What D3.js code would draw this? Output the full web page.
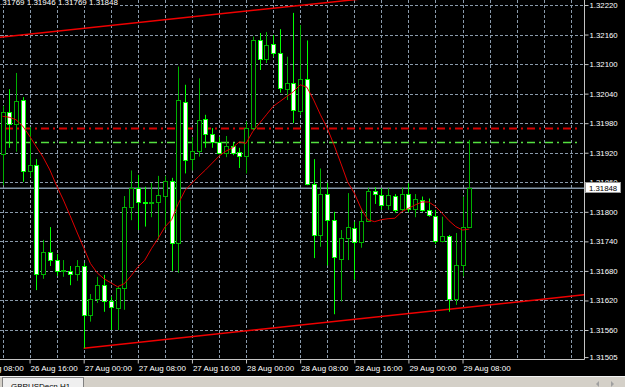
<!DOCTYPE html>
<html>
<head>
<meta charset="utf-8">
<script src="https://cdn.jsdelivr.net/npm/d3@7"></script>
<style>
  body { margin: 0; background: #000; }
  svg { display: block; }
  text { font-family: "Liberation Sans", Arial, sans-serif; }
</style>
</head>
<body>
<div id="chart"></div>
<script>
// GBPUSDecn H1, bar 0 = 26 Aug 12:00
const opens = [1.31917,1.32002,1.31978,1.32027,1.31882,1.31895,1.31674,1.31718,1.31702,1.31681,
  1.31680,1.31674,1.31690,1.31590,1.31622,1.31651,1.31619,1.31605,1.31645,1.31810,
  1.31848,1.31820,1.31817,1.31819,1.31832,1.31863,1.31736,1.32024,1.31907,1.31924,
  1.31988,1.31958,1.31941,1.31919,1.31934,1.31921,1.31914,1.31970,1.32149,1.32110,
  1.32140,1.32122,1.32049,1.32061,1.32005,1.32070,1.31856,1.31752,1.31836,1.31783,
  1.31704,1.31747,1.31768,1.31738,1.31782,1.31843,1.31834,1.31814,1.31833,1.31806,
  1.31836,1.31805,1.31825,1.31804,1.31792,1.31741,1.31751,1.31623,1.31691,1.31769];
const highs = [1.32015,1.32049,1.32082,1.32033,1.31972,1.31907,1.31743,1.31769,1.31714,1.31702,
  1.31690,1.31702,1.31696,1.31633,1.31668,1.31672,1.31628,1.31649,1.31832,1.31884,
  1.31875,1.31851,1.31859,1.31873,1.31873,1.31869,1.32095,1.32058,1.31952,1.32071,
  1.31997,1.31970,1.31952,1.31954,1.31940,1.31930,1.31984,1.32156,1.32163,1.32165,
  1.32159,1.32171,1.32115,1.32204,1.32179,1.32148,1.31907,1.31888,1.31859,1.31800,
  1.31763,1.31838,1.31780,1.31807,1.31849,1.31850,1.31848,1.31848,1.31836,1.31849,
  1.31858,1.31836,1.31831,1.31827,1.31804,1.31790,1.31753,1.31757,1.31831,1.31946];
const lows = [1.31854,1.31930,1.31922,1.31861,1.31871,1.31641,1.31664,1.31690,1.31670,1.31668,
  1.31651,1.31660,1.31523,1.31577,1.31615,1.31597,1.31560,1.31560,1.31601,1.31783,
  1.31763,1.31770,1.31789,1.31743,1.31763,1.31680,1.31676,1.31878,1.31884,1.31912,
  1.31930,1.31930,1.31917,1.31911,1.31915,1.31889,1.31878,1.31966,1.32088,1.32102,
  1.32115,1.32042,1.32027,1.31980,1.31997,1.31854,1.31706,1.31729,1.31691,1.31592,
  1.31618,1.31702,1.31662,1.31727,1.31780,1.31816,1.31804,1.31804,1.31798,1.31800,
  1.31799,1.31789,1.31800,1.31790,1.31735,1.31738,1.31597,1.31611,1.31669,1.31769];
const closes = [1.32003,1.31978,1.32026,1.31883,1.31895,1.31674,1.31718,1.31702,1.31680,1.31682,
  1.31674,1.31689,1.31590,1.31622,1.31651,1.31618,1.31607,1.31645,1.31810,1.31848,
  1.31819,1.31818,1.31819,1.31834,1.31863,1.31736,1.32027,1.31905,1.31924,1.31986,
  1.31959,1.31942,1.31919,1.31934,1.31920,1.31913,1.31970,1.32148,1.32110,1.32139,
  1.32122,1.32051,1.32061,1.32007,1.32069,1.31856,1.31752,1.31836,1.31783,1.31709,
  1.31747,1.31770,1.31738,1.31782,1.31843,1.31836,1.31814,1.31834,1.31803,1.31836,
  1.31806,1.31827,1.31804,1.31793,1.31741,1.31751,1.31623,1.31691,1.31769,1.31848];
// moving average (red line)
const maValues = [1.31994,1.31992,1.31987,1.31974,1.31954,1.31932,1.31911,1.31885,1.31853,1.31824,
  1.31792,1.31759,1.31727,1.31695,1.31676,1.31664,1.31656,1.31648,1.31654,1.31670,
  1.31688,1.31701,1.31725,1.31746,1.31769,1.31784,1.31817,1.31844,1.31858,1.31872,
  1.31885,1.31899,1.31913,1.31923,1.31930,1.31942,1.31939,1.31963,1.31980,1.31997,
  1.32014,1.32024,1.32034,1.32044,1.32058,1.32053,1.32027,1.31997,1.31970,1.31936,
  1.31899,1.31861,1.31838,1.31807,1.31784,1.31780,1.31784,1.31786,1.31787,1.31800,
  1.31807,1.31814,1.31820,1.31820,1.31811,1.31797,1.31782,1.31770,1.31763,1.31765];

const priceTicks = [1.32220,1.32160,1.32100,1.32040,1.31980,1.31920,1.31860,1.31800,1.31740,1.31680,1.31620,1.31560,1.31505];
const timeTickBars = [-4,4,12,20,28,36,44,52,60,68];
const timeTickLabels = ["26 Aug 08:00","26 Aug 16:00","27 Aug 00:00","27 Aug 08:00","27 Aug 16:00",
  "28 Aug 00:00","28 Aug 08:00","28 Aug 16:00","29 Aug 00:00","29 Aug 08:00"];

const bidPrice = 1.31848;
const redLevel = 1.31970;
const greenLevel = 1.31942;
// channel trend lines: [bar, price] anchors
const upperTrendBars = [0, 35], upperTrendPrices = [1.32155, 1.32206];
const lowerTrendBars = [12, 85], lowerTrendPrices = [1.31523, 1.31630];

const symbolTab = "GBPUSDecn,H1";

const width = 625, height = 387;
const plotRight = 584, plotBottom = 359;

const svg = d3.select("#chart").append("svg")
    .attr("width", width)
    .attr("height", height);

svg.append("rect").attr("width", width).attr("height", height).attr("fill", "#000");

svg.append("clipPath").attr("id", "plotclip")
  .append("rect").attr("x", 0).attr("y", 0).attr("width", plotRight).attr("height", plotBottom);

const x = d3.scaleLinear().domain([0, 86]).range([2.5, 584.3]);
const y = d3.scaleLinear().domain([1.31560, 1.32220]).range([330, 5]);
const px = i => Math.round(x(i)) + 0.5;
const py = p => Math.round(y(p)) + 0.5;

const plot = svg.append("g").attr("clip-path", "url(#plotclip)");

// grid
const gridColor = "#8a9aab";
plot.selectAll(".hgrid")
  .data(priceTicks.filter(p => p > 1.3153))
  .join("line")
    .attr("x1", 0).attr("x2", plotRight)
    .attr("y1", d => py(d)).attr("y2", d => py(d))
    .attr("stroke", gridColor).attr("stroke-dasharray", "3,2");
plot.selectAll(".vgrid")
  .data(d3.range(0, 86, 4))
  .join("line")
    .attr("x1", d => px(d)).attr("x2", d => px(d))
    .attr("y1", 0).attr("y2", plotBottom)
    .attr("stroke", gridColor).attr("stroke-dasharray", "3,2");

// bid line
plot.append("line")
  .attr("x1", 0).attr("x2", plotRight)
  .attr("y1", y(bidPrice)).attr("y2", y(bidPrice))
  .attr("stroke", "#8395a7").attr("stroke-width", 1.6);

// dash-dot levels
plot.append("line")
  .attr("x1", 5).attr("x2", plotRight - 6)
  .attr("y1", py(redLevel)).attr("y2", py(redLevel))
  .attr("stroke", "#d40000").attr("stroke-width", 2)
  .attr("stroke-dasharray", "8,4,2,4");
plot.append("line")
  .attr("x1", 5).attr("x2", plotRight - 6)
  .attr("y1", py(greenLevel)).attr("y2", py(greenLevel))
  .attr("stroke", "#55e040").attr("stroke-width", 1.4)
  .attr("stroke-dasharray", "8,4,2,4");

// trend lines
function trendPoint(bars, prices, b) {
  const slope = (prices[1] - prices[0]) / (bars[1] - bars[0]);
  return [x(b), y(prices[0] + slope * (b - bars[0]))];
}
plot.append("path")
  .attr("d", d3.line()([trendPoint(upperTrendBars, upperTrendPrices, -5), trendPoint(upperTrendBars, upperTrendPrices, 90)]))
  .attr("stroke", "#f00000").attr("stroke-width", 1.5).attr("fill", "none");
plot.append("path")
  .attr("d", d3.line()([trendPoint(lowerTrendBars, lowerTrendPrices, 12), trendPoint(lowerTrendBars, lowerTrendPrices, 90)]))
  .attr("stroke", "#f00000").attr("stroke-width", 1.5).attr("fill", "none");

// candles
const bars = opens.map((o, i) => ({i: i, o: o, h: highs[i], l: lows[i], c: closes[i]}));
const bullColor = "#00b000", bearColor = "#00ff00";
const candle = plot.selectAll(".candle").data(bars).join("g");
candle.append("line")
  .attr("x1", d => px(d.i)).attr("x2", d => px(d.i))
  .attr("y1", d => y(d.h)).attr("y2", d => y(d.l))
  .attr("stroke", d => d.c >= d.o ? bullColor : bearColor);
candle.append("rect")
  .attr("x", d => px(d.i) - 2)
  .attr("width", 4)
  .attr("y", d => Math.round(y(Math.max(d.o, d.c))) + 0.5)
  .attr("height", d => Math.max(1, Math.round(y(Math.min(d.o, d.c))) - Math.round(y(Math.max(d.o, d.c)))))
  .attr("fill", d => d.c >= d.o ? "#000" : "#fff")
  .attr("stroke", d => d.c >= d.o ? bullColor : bearColor);

// moving average
plot.append("path")
  .datum(maValues)
  .attr("d", d3.line().x((d, i) => x(i)).y(d => y(d)))
  .attr("fill", "none").attr("stroke", "#e00000").attr("stroke-width", 1);

// borders
svg.append("line").attr("x1", plotRight + 0.5).attr("x2", plotRight + 0.5).attr("y1", 0).attr("y2", plotBottom + 0.5)
  .attr("stroke", "#c4c4c4");
svg.append("line").attr("x1", 0).attr("x2", plotRight + 0.5).attr("y1", plotBottom + 0.5).attr("y2", plotBottom + 0.5)
  .attr("stroke", "#c4c4c4");

// price axis
const yAxis = svg.append("g")
  .attr("transform", `translate(${plotRight + 0.5},0)`)
  .call(d3.axisRight(y).tickValues(priceTicks).tickFormat(d3.format(".5f")).tickSize(4).tickPadding(1));
yAxis.select(".domain").remove();
yAxis.selectAll(".tick line").attr("stroke", "#c4c4c4");
yAxis.selectAll(".tick text").attr("fill", "#fff").style("font-size", "7.8px")
  .style("font-family", "Liberation Sans, Arial, sans-serif");

// bid price box
svg.append("rect").attr("x", 585.5).attr("y", Math.round(y(bidPrice)) - 5.5).attr("width", 35).attr("height", 10)
  .attr("fill", "#fff").attr("stroke", "#9a9a9a");
svg.append("text").attr("x", 589).attr("y", y(bidPrice) + 3)
  .attr("fill", "#000").style("font-size", "7.8px").text(d3.format(".5f")(bidPrice));

// time axis
const xAxis = svg.append("g")
  .attr("transform", `translate(0,${plotBottom + 0.5})`)
  .call(d3.axisBottom(x).tickValues(timeTickBars).tickFormat((d, k) => timeTickLabels[k]).tickSize(4).tickPadding(2));
xAxis.select(".domain").remove();
xAxis.selectAll(".tick line").attr("stroke", "#c4c4c4");
xAxis.selectAll(".tick text").attr("fill", "#fff").attr("text-anchor", "start").attr("x", 0.5)
  .style("font-size", "8px").style("font-family", "Liberation Sans, Arial, sans-serif");

// header (OHLC of last bar)
const last = bars[bars.length - 1];
svg.append("rect").attr("x", 0).attr("y", 0).attr("width", 118).attr("height", 6).attr("fill", "#000");
svg.append("text").attr("x", -4.4).attr("y", 4.5)
  .attr("fill", "#fff").style("font-size", "8px")
  .text([last.o, last.h, last.l, last.c].map(d3.format(".5f")).join(" "));

// bottom tab strip
svg.append("rect").attr("x", 0).attr("y", 376).attr("width", width).attr("height", 11).attr("fill", "#d4d0c8");
svg.append("line").attr("x1", 0).attr("x2", width).attr("y1", 376.5).attr("y2", 376.5).attr("stroke", "#f4f4f4");
svg.append("rect").attr("x", 2.5).attr("y", 377.5).attr("width", 81).attr("height", 12)
  .attr("fill", "#efefef").attr("stroke", "#808080");
svg.append("text").attr("x", 11).attr("y", 389).attr("fill", "#000").style("font-size", "8px").text(symbolTab);
svg.append("path").attr("d", "M596,384 L599,381 L599,387 Z").attr("fill", "#a0a0a0");
svg.append("path").attr("d", "M614,384 L611,381 L611,387 Z").attr("fill", "#a0a0a0");
</script>
</body>
</html>
